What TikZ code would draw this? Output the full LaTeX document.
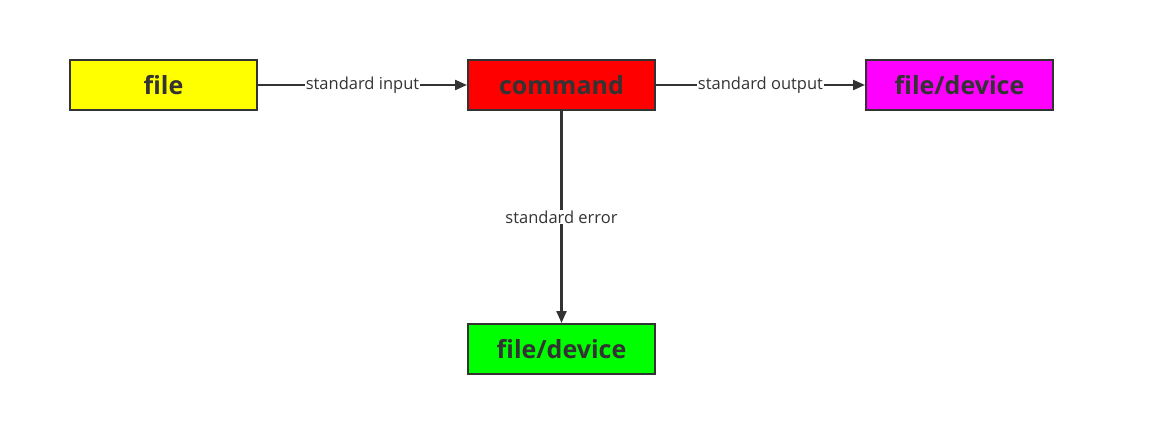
\documentclass[tikz,border=0pt]{standalone}
\usepackage{fontspec}
\setmainfont{Open Sans}
\usetikzlibrary{arrows.meta}
\definecolor{ink}{HTML}{333333}
\definecolor{cyel}{HTML}{FFFF00}
\definecolor{cred}{HTML}{FF0000}
\definecolor{cmag}{HTML}{FF00FF}
\definecolor{cgrn}{HTML}{00FF00}
\begin{document}
\begin{tikzpicture}[x=1pt,y=-1pt,
  box/.style={draw=ink,line width=2pt,minimum width=187pt,minimum height=50pt,inner sep=0pt,text=ink,font=\bfseries\fontsize{25}{30}\selectfont},
  conn/.style={draw=ink,line width=2.2pt,-{Triangle[length=12pt,width=10pt]}},
  lab/.style={fill=white,text=ink,inner sep=1pt,font=\fontsize{16.5}{20}\selectfont}]
\useasboundingbox[fill=white] (0,0) rectangle (1154,422);
\node[box,fill=cyel] (file) at (163.5,85) {file};
\node[box,fill=cred] (cmd) at (561.5,85) {command};
\node[box,fill=cmag] (out) at (959.5,85) {file/device};
\node[box,fill=cgrn] (err) at (561.5,349) {file/device};
\draw[conn] (file) -- node[lab]{standard input} (cmd);
\draw[conn] (cmd) -- node[lab]{standard output} (out);
\draw[conn] (cmd) -- node[lab,pos=0.5]{standard error} (err);
\end{tikzpicture}
\end{document}
